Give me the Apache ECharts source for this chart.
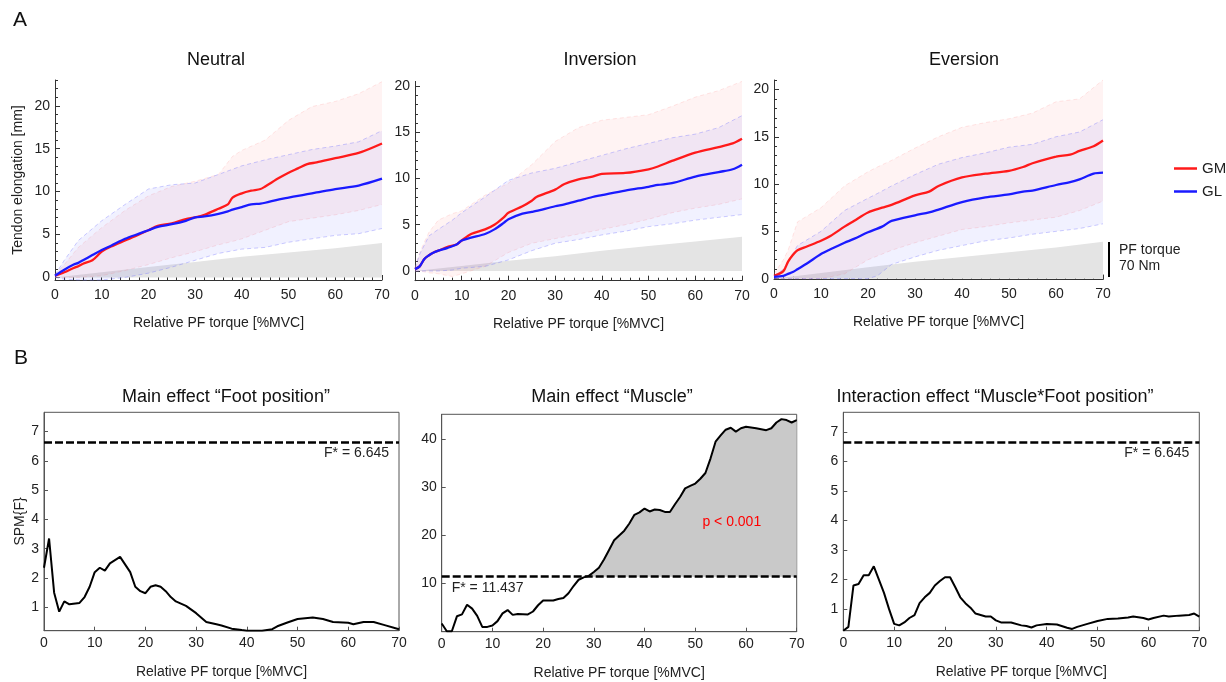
<!DOCTYPE html>
<html>
<head>
<meta charset="utf-8">
<script src="https://cdn.jsdelivr.net/npm/echarts@6.0.0/dist/echarts.min.js"></script>
<style>
  html, body { margin: 0; padding: 0; background: #fff; }
  #chart { width: 1226px; height: 682px; }
</style>
</head>
<body>
<div id="chart"></div>
<script>
// ---- data ----
// top row: tendon elongation [mm] vs relative PF torque [%MVC]
const neutralX = [0, 2, 4, 5, 6, 8, 10, 12, 15, 18, 20, 22, 25, 28, 30, 32, 35, 37, 38, 40, 42, 44, 45, 48, 50, 52, 54, 56, 60, 65, 70];
const neutralGM = [0.2, 0.6, 1.1, 1.3, 1.6, 2.0, 3.0, 3.6, 4.3, 5.0, 5.5, 6.0, 6.3, 6.8, 7.0, 7.3, 8.0, 8.5, 9.3, 9.8, 10.1, 10.3, 10.6, 11.6, 12.2, 12.7, 13.2, 13.4, 13.9, 14.5, 15.6];
const neutralGL = [0.2, 0.9, 1.5, 1.7, 2.0, 2.6, 3.2, 3.7, 4.5, 5.1, 5.5, 5.9, 6.2, 6.6, 7.0, 7.1, 7.4, 7.7, 7.9, 8.2, 8.5, 8.6, 8.7, 9.1, 9.3, 9.5, 9.7, 9.9, 10.3, 10.7, 11.5];
const neutralBandX = [0, 2, 5, 10, 15, 20, 25, 30, 35, 38, 40, 45, 50, 55, 60, 65, 70];
const neutralGMHigh = [0.3, 1.5, 3.5, 5.8, 7.8, 9.5, 10.6, 11.2, 12.0, 14.1, 14.8, 16.0, 18.3, 19.9, 20.5, 21.4, 22.8];
const neutralGMLow = [0, 0, 0, 0.2, 0.8, 1.5, 2.3, 3.0, 3.8, 4.2, 4.5, 5.5, 6.5, 6.9, 7.3, 7.8, 8.5];
const neutralGLHigh = [0.3, 2.0, 4.3, 6.6, 8.5, 10.3, 10.8, 11.0, 12.0, 12.6, 13.0, 13.7, 14.3, 14.9, 15.3, 15.8, 17.1];
const neutralGLLow = [0, -0.2, -0.3, -0.3, 0, 0.5, 1.2, 2.0, 2.8, 3.1, 3.3, 3.5, 4.1, 4.5, 4.9, 5.1, 5.7];

const inversionX = [0, 1, 2, 3, 4, 5, 7, 9, 10, 12, 15, 17, 19, 20, 23, 25, 26, 30, 32, 35, 38, 40, 45, 50, 52, 55, 60, 65, 68, 70];
const inversionGM = [0.2, 0.5, 1.3, 1.7, 2.0, 2.2, 2.6, 2.9, 3.3, 4.0, 4.5, 5.0, 5.8, 6.3, 7.0, 7.6, 8.0, 8.8, 9.4, 9.9, 10.2, 10.5, 10.6, 11.0, 11.3, 11.9, 12.8, 13.4, 13.8, 14.3];
const inversionGL = [0.2, 0.5, 1.3, 1.7, 2.0, 2.2, 2.5, 2.9, 3.3, 3.6, 4.0, 4.5, 5.2, 5.6, 6.2, 6.4, 6.5, 7.0, 7.2, 7.6, 8.0, 8.2, 8.7, 9.1, 9.3, 9.5, 10.2, 10.7, 11.0, 11.5];
const inversionBandX = [0, 1, 3, 5, 8, 10, 15, 20, 25, 30, 35, 40, 45, 50, 55, 60, 65, 70];
const inversionGMHigh = [0.3, 2.0, 4.2, 5.5, 6.2, 6.5, 8.2, 9.5, 11.5, 14.0, 15.5, 16.3, 16.6, 16.9, 17.8, 18.8, 19.5, 20.5];
const inversionGMLow = [0, 0, -0.2, -0.3, -0.6, -0.3, 0.5, 2.0, 3.0, 3.5, 4.0, 4.5, 5.0, 5.6, 6.3, 6.8, 7.2, 7.8];
const inversionGLHigh = [0.3, 1.8, 3.8, 4.5, 5.5, 6.3, 8.0, 9.8, 10.6, 11.1, 11.8, 12.5, 13.2, 13.8, 14.4, 14.8, 15.5, 16.8];
const inversionGLLow = [0, 0, 0, 0, 0.1, 0.3, 0.5, 1.2, 2.2, 3.0, 3.4, 3.9, 4.3, 4.8, 5.1, 5.5, 5.8, 6.1];

const eversionX = [0, 2, 3, 4, 5, 7, 10, 12, 15, 17, 20, 23, 25, 30, 33, 35, 40, 45, 50, 53, 55, 60, 63, 65, 68, 70];
const eversionGM = [0.3, 0.8, 1.8, 2.5, 3.0, 3.4, 4.0, 4.5, 5.5, 6.1, 7.0, 7.5, 7.8, 8.8, 9.2, 9.8, 10.7, 11.1, 11.4, 11.8, 12.2, 12.9, 13.1, 13.5, 14.0, 14.6];
const eversionGL = [0.2, 0.3, 0.5, 0.7, 1.0, 1.6, 2.6, 3.1, 3.8, 4.2, 4.9, 5.5, 6.1, 6.7, 7.0, 7.3, 8.1, 8.6, 8.9, 9.2, 9.3, 9.9, 10.2, 10.5, 11.1, 11.2];
const eversionBandX = [0, 2, 3, 5, 10, 15, 20, 22, 25, 30, 35, 40, 45, 50, 55, 60, 65, 70];
const eversionGMHigh = [0.5, 2.0, 3.0, 6.0, 7.5, 9.8, 11.3, 11.8, 12.5, 13.8, 15.0, 16.0, 16.5, 16.9, 17.5, 18.7, 19.0, 21.0];
const eversionGMLow = [0, 0, 0, 0, 0, 0.5, 2.0, 2.4, 3.0, 3.8, 4.5, 5.2, 5.5, 5.9, 6.2, 6.5, 7.2, 8.2];
const eversionGLHigh = [0.3, 1.0, 1.8, 3.5, 5.0, 7.2, 8.5, 9.0, 9.8, 11.0, 12.1, 12.8, 13.3, 13.9, 14.2, 15.0, 15.5, 16.8];
const eversionGLLow = [0, 0, 0, 0, 0, 0, 0, 0.3, 1.5, 2.3, 3.0, 3.5, 4.0, 4.3, 4.7, 5.0, 5.3, 5.8];

// grey PF torque trace (scaled into the panel)
const torqueX = [0, 10, 20, 30, 40, 50, 60, 70];
const neutralTorque = [0, 0.6, 1.2, 1.8, 2.4, 2.9, 3.4, 4.0];
const inversionTorque = [0, 0.55, 1.1, 1.6, 2.2, 2.7, 3.2, 3.7];
const eversionTorque = [0, 0.6, 1.2, 1.8, 2.3, 2.8, 3.3, 3.9];

// bottom row: SPM{F}
const footX = [0, 1, 2, 3, 4, 5, 7, 8, 9, 10, 11, 12, 13, 15, 17, 18, 19, 20, 21, 22, 23, 24, 25, 26, 28, 30, 32, 34, 35, 37, 39, 40, 43, 45, 46, 48, 50, 53, 55, 57, 60, 61, 63, 65, 67, 70];
const footF = [2.35, 3.35, 1.5, 0.85, 1.2, 1.1, 1.15, 1.35, 1.7, 2.2, 2.35, 2.25, 2.5, 2.72, 2.2, 1.7, 1.55, 1.48, 1.7, 1.75, 1.7, 1.55, 1.35, 1.2, 1.05, 0.8, 0.5, 0.42, 0.38, 0.27, 0.22, 0.2, 0.2, 0.25, 0.35, 0.48, 0.6, 0.65, 0.6, 0.5, 0.47, 0.42, 0.5, 0.5, 0.4, 0.25];
const muscleX = [0, 1, 2, 3, 4, 5, 6, 7, 8, 9, 10, 11, 12, 13, 14, 15, 17, 18, 19, 20, 22, 23, 24, 25, 26, 27, 28, 29, 30, 31, 32, 33, 34, 35, 36, 37, 38, 39, 40, 41, 42, 43, 44, 45, 46, 47, 48, 49, 50, 51, 52, 53, 54, 55, 56, 57, 58, 59, 60, 62, 64, 65, 66, 67, 68, 69, 70];
const muscleF = [1.7, 0.1, 0.1, 3.2, 3.6, 5.6, 4.8, 3.3, 1.0, 1.0, 1.3, 2.2, 3.8, 4.5, 3.5, 3.7, 3.6, 4.2, 5.5, 6.5, 6.5, 6.8, 7.0, 8.0, 9.5, 10.8, 11.3, 11.6, 12.4, 13.3, 15, 17, 19, 20, 21, 22.5, 24.3, 24.8, 25.6, 25, 25.4, 25.3, 24.9, 24.9, 26.5, 28, 29.8, 30.3, 30.8, 31.8, 33, 36, 39.5, 40.8, 42, 42.4, 41.6, 42.3, 42.6, 42.3, 41.9, 42.3, 43.5, 44.2, 44, 43.5, 44];
const interX = [0, 1, 2, 3, 4, 5, 6, 7, 8, 9, 10, 11, 12, 13, 14, 15, 16, 17, 18, 19, 20, 21, 22, 23, 24, 25, 26, 27, 28, 29, 30, 31, 33, 35, 36, 37, 38, 40, 42, 44, 45, 46, 48, 50, 52, 54, 56, 57, 59, 60, 61, 63, 64, 66, 68, 69, 70];
const interF = [0.27, 0.4, 1.8, 1.85, 2.15, 2.15, 2.45, 2.0, 1.55, 1.0, 0.5, 0.45, 0.55, 0.7, 0.8, 1.2, 1.4, 1.55, 1.8, 1.95, 2.08, 2.08, 1.75, 1.4, 1.2, 1.05, 0.85, 0.8, 0.75, 0.75, 0.62, 0.55, 0.55, 0.45, 0.43, 0.38, 0.45, 0.5, 0.48, 0.37, 0.33, 0.4, 0.5, 0.6, 0.67, 0.68, 0.72, 0.75, 0.7, 0.65, 0.7, 0.78, 0.75, 0.78, 0.8, 0.85, 0.75];
const footThreshold = 6.645;
const muscleThreshold = 11.437;
const interThreshold = 6.645;

// tick labels
const topYTicks = [0, 5, 10, 15, 20];
const smallFTicks = [1, 2, 3, 4, 5, 6, 7];
const muscleTicks = [10, 20, 30, 40];

const FONT = 'Liberation Sans, Arial, sans-serif';
const RED = '#ff1a1a';
const BLUE = '#1a1aff';

function pairs(xs, ys) {
  return xs.map((x, i) => [x, ys[i]]);
}
function range(a, b) {
  const out = [];
  for (let v = a; v <= b; v++) out.push(v);
  return out;
}

// mean curve
function meanLine(g, name, xs, ys, color) {
  return {
    name: name, type: 'line', xAxisIndex: g, yAxisIndex: g,
    data: pairs(xs, ys), symbol: 'none', smooth: 0.3, z: 5,
    lineStyle: { color: color, width: 2.3 }, itemStyle: { color: color }
  };
}
// +-SD band: one polygon (high edge forward, low edge back) with dashed edges
function band(g, xs, lo, hi, fill, edge) {
  return {
    type: 'custom', xAxisIndex: g, yAxisIndex: g, silent: true, z: 3,
    data: xs.map((x, i) => [x, lo[i], hi[i]]),
    encode: { x: 0, y: [1, 2] },
    renderItem: function (params, api) {
      if (params.dataIndex !== 0) return null;
      const top = xs.map((x, i) => api.coord([x, hi[i]]));
      const bot = xs.map((x, i) => api.coord([x, lo[i]]));
      const dash = { stroke: edge, lineWidth: 1, lineDash: [4, 3], fill: null };
      return {
        type: 'group',
        children: [
          { type: 'polygon', shape: { points: top.concat(bot.slice().reverse()) }, style: { fill: fill } },
          { type: 'polyline', shape: { points: top }, style: dash },
          { type: 'polyline', shape: { points: bot }, style: dash }
        ]
      };
    }
  };
}
function torqueArea(g, ys) {
  return {
    type: 'line', xAxisIndex: g, yAxisIndex: g, data: pairs(torqueX, ys),
    symbol: 'none', silent: true, z: 1, lineStyle: { width: 0 },
    areaStyle: { color: '#e4e4e4', opacity: 1 }
  };
}
function spmLine(g, xs, ys, thr, labelPos, labelDist) {
  return {
    type: 'line', xAxisIndex: g, yAxisIndex: g, data: pairs(xs, ys),
    symbol: 'none', z: 5, lineStyle: { color: '#000', width: 2 },
    markLine: {
      symbol: 'none', silent: true, animation: false,
      lineStyle: { color: '#000', width: 2.5, type: [8, 3] },
      label: {
        show: true, position: labelPos, distance: labelDist,
        formatter: 'F* = ' + thr, color: '#222', fontSize: 14, fontFamily: FONT
      },
      data: [{ yAxis: thr }]
    }
  };
}

// ---- layout ----
const topGrids = [
  { left: 55, top: 80, width: 327, height: 200 },
  { left: 415, top: 81.4, width: 327, height: 199.3 },
  { left: 774, top: 80, width: 329, height: 199.6 }
];
const topRanges = [[-0.3, 23], [-1.05, 20.5], [-0.1, 21]];
const bottomGrids = [
  { left: 44, top: 412.3, width: 355, height: 218.4 },
  { left: 441.7, top: 414.3, width: 355, height: 217.4 },
  { left: 843.3, top: 412.3, width: 356, height: 218.4 }
];
const bottomRanges = [[0.2, 7.66], [0, 45.2], [0.27, 7.66]];
const bottomTicks = [smallFTicks, muscleTicks, smallFTicks];

const axisColor = '#333';
const labelStyle = { fontSize: 14, color: '#222', fontFamily: FONT };
const nameStyle = { fontSize: 14, color: '#222', fontFamily: FONT };

const grid = topGrids.concat(bottomGrids.map(g => Object.assign({ show: true, borderColor: '#555', borderWidth: 1 }, g)));

const xAxis = [];
const yAxis = [];
topGrids.forEach((g, i) => {
  xAxis.push({
    gridIndex: i, type: 'value', min: 0, max: 70, interval: 10,
    axisLine: { onZero: false, lineStyle: { color: axisColor } },
    axisTick: { inside: true, length: 5, lineStyle: { color: axisColor } },
    minorTick: { show: true, splitNumber: 5, length: 3, lineStyle: { color: axisColor } },
    axisLabel: Object.assign({ margin: 8 }, labelStyle),
    splitLine: { show: false },
    name: 'Relative PF torque [%MVC]', nameLocation: 'middle', nameGap: 36, nameTextStyle: nameStyle
  });
  yAxis.push({
    gridIndex: i, type: 'value', min: topRanges[i][0], max: topRanges[i][1], position: 'left',
    axisLine: { show: true, onZero: false, lineStyle: { color: axisColor } },
    axisTick: { show: true, inside: true, length: 5, customValues: topYTicks, lineStyle: { color: axisColor } },
    axisLabel: Object.assign({ margin: 5, customValues: topYTicks }, labelStyle),
    splitLine: { show: false },
    name: i === 0 ? 'Tendon elongation [mm]' : '', nameLocation: 'middle', nameGap: 30, nameTextStyle: nameStyle
  });
});
bottomGrids.forEach((g, j) => {
  const i = j + 3;
  xAxis.push({
    gridIndex: i, type: 'value', min: 0, max: 70, interval: 10,
    axisLine: { onZero: false, lineStyle: { color: '#555' } },
    axisTick: { inside: true, length: 4, lineStyle: { color: '#555' } },
    axisLabel: Object.assign({ margin: 5 }, labelStyle),
    splitLine: { show: false },
    name: 'Relative PF torque [%MVC]', nameLocation: 'middle', nameGap: 34, nameTextStyle: nameStyle
  });
  yAxis.push({
    gridIndex: i, type: 'value', min: bottomRanges[j][0], max: bottomRanges[j][1], position: 'left',
    axisLine: { show: true, onZero: false, lineStyle: { color: '#555' } },
    axisTick: { show: true, inside: true, length: 4, customValues: bottomTicks[j], lineStyle: { color: '#555' } },
    axisLabel: Object.assign({ margin: 5, customValues: bottomTicks[j] }, labelStyle),
    splitLine: { show: false },
    name: j === 0 ? 'SPM{F}' : '', nameLocation: 'middle', nameGap: 15, nameTextStyle: nameStyle
  });
});
// minor y ticks for the top row (second, label-less axis in each grid)
topGrids.forEach((g, i) => {
  yAxis.push({
    gridIndex: i, type: 'value', min: topRanges[i][0], max: topRanges[i][1], position: 'left', offset: 0,
    axisLine: { show: false, onZero: false },
    axisTick: { show: true, inside: true, length: 3, customValues: range(0, Math.floor(topRanges[i][1])), lineStyle: { color: axisColor } },
    axisLabel: { show: false }, splitLine: { show: false }
  });
});

const redFill = 'rgba(255,40,40,0.055)';
const blueFill = 'rgba(40,40,255,0.065)';
const redEdge = 'rgba(255,140,140,0.22)';
const blueEdge = 'rgba(110,110,255,0.35)';

const panels = [
  { x: neutralX, gm: neutralGM, gl: neutralGL, bx: neutralBandX, gmL: neutralGMLow, gmH: neutralGMHigh, glL: neutralGLLow, glH: neutralGLHigh, tq: neutralTorque },
  { x: inversionX, gm: inversionGM, gl: inversionGL, bx: inversionBandX, gmL: inversionGMLow, gmH: inversionGMHigh, glL: inversionGLLow, glH: inversionGLHigh, tq: inversionTorque },
  { x: eversionX, gm: eversionGM, gl: eversionGL, bx: eversionBandX, gmL: eversionGMLow, gmH: eversionGMHigh, glL: eversionGLLow, glH: eversionGLHigh, tq: eversionTorque }
];

const series = [];
panels.forEach((p, g) => {
  series.push(torqueArea(g, p.tq));
  series.push(band(g, p.bx, p.gmL, p.gmH, redFill, redEdge));
  series.push(band(g, p.bx, p.glL, p.glH, blueFill, blueEdge));
  series.push(meanLine(g, 'GM', p.x, p.gm, RED));
  series.push(meanLine(g, 'GL', p.x, p.gl, BLUE));
});

// shaded supra-threshold cluster in "Muscle"
series.push({
  type: 'line', xAxisIndex: 4, yAxisIndex: 4, symbol: 'none', silent: true, z: 2,
  data: pairs(muscleX, muscleF).filter(d => d[1] >= muscleThreshold),
  lineStyle: { width: 0 },
  areaStyle: { color: '#c9c9c9', opacity: 1, origin: muscleThreshold }
});
series.push(spmLine(3, footX, footF, footThreshold, 'insideEndBottom', [10, 4]));
const muscleSeries = spmLine(4, muscleX, muscleF, muscleThreshold, 'insideStartBottom', [10, 4]);
muscleSeries.markPoint = {
  symbol: 'circle', symbolSize: 1, silent: true, itemStyle: { color: 'rgba(0,0,0,0)' },
  label: { show: true, position: 'inside', formatter: 'p < 0.001', color: '#ff0000', fontSize: 14, fontFamily: FONT },
  data: [{ coord: [57.2, 22.8] }]
};
series.push(muscleSeries);
series.push(spmLine(5, interX, interF, interThreshold, 'insideEndBottom', [10, 4]));

const titleStyle = { fontSize: 18, fontWeight: 'normal', color: '#111', fontFamily: FONT };
const title = [
  { text: 'Neutral', left: 216, top: 51 },
  { text: 'Inversion', left: 600, top: 51 },
  { text: 'Eversion', left: 964, top: 51 },
  { text: 'Main effect \u201cFoot position\u201d', left: 226, top: 388 },
  { text: 'Main effect \u201cMuscle\u201d', left: 612, top: 388 },
  { text: 'Interaction effect \u201cMuscle*Foot position\u201d', left: 995, top: 388 }
].map(t => Object.assign({ textAlign: 'center', padding: 0, textStyle: titleStyle }, t));

const chart = echarts.init(document.getElementById('chart'));
chart.setOption({
  animation: false,
  backgroundColor: '#fff',
  textStyle: { fontFamily: FONT },
  title: title,
  legend: {
    data: ['GM', 'GL'], orient: 'vertical', left: 1169, top: 156,
    icon: 'rect', itemWidth: 23, itemHeight: 2.5, itemGap: 8,
    textStyle: { fontSize: 15, color: '#222', fontFamily: FONT }
  },
  grid: grid,
  xAxis: xAxis,
  yAxis: yAxis,
  series: series,
  graphic: [
    { type: 'text', left: 13, top: 10, style: { text: 'A', fontSize: 21, fill: '#111', fontFamily: FONT } },
    { type: 'text', left: 14, top: 348, style: { text: 'B', fontSize: 21, fill: '#111', fontFamily: FONT } },
    { type: 'line', shape: { x1: 1109, y1: 242, x2: 1109, y2: 277 }, style: { stroke: '#000', lineWidth: 2 } },
    { type: 'text', left: 1119, top: 242, style: { text: 'PF torque\n70 Nm', fontSize: 14, lineHeight: 16, fill: '#222', fontFamily: FONT } }
  ]
});
</script>
</body>
</html>
